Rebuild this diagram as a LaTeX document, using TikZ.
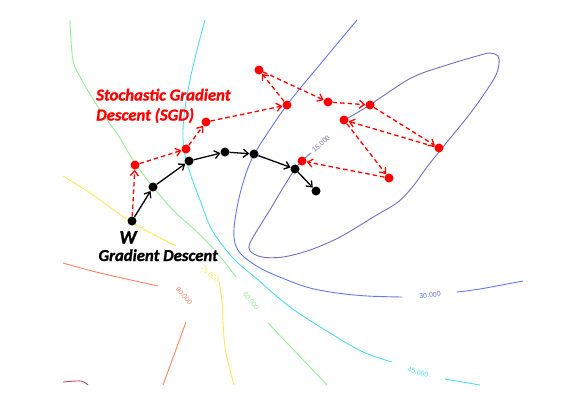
\documentclass[tikz,border=0pt]{standalone}
\usepackage{fontspec}
\newfontfamily\calib{Carlito}[UprightFont={* Bold Italic}, FakeBold=1.2]
\newfontfamily\arialf{Liberation Sans}
\usetikzlibrary{arrows.meta}
\definecolor{cPurple}{RGB}{112,112,192}
\definecolor{cBlue}{RGB}{100,120,238}
\definecolor{cCyan}{RGB}{80,220,240}
\definecolor{cGreen}{RGB}{150,238,150}
\definecolor{cYellow}{RGB}{255,232,90}
\definecolor{cSalmon}{RGB}{255,130,100}
\definecolor{cDark}{RGB}{190,80,100}
\definecolor{sgdred}{RGB}{255,0,0}
\begin{document}
\begin{tikzpicture}[x=1pt,y=-1pt,
  contour/.style={line width=0.9pt},
  clabel/.style={font=\arialf\fontsize{7}{8}\selectfont, inner sep=0.5pt},
  gddot/.style={circle, fill=black, minimum size=9pt, inner sep=0pt},
  sgddot/.style={circle, fill=sgdred, minimum size=9pt, inner sep=0pt},
  gdarrow/.style={line width=1.3pt, black, -{Straight Barb[length=5pt,width=8pt]}},
  sgdarrow/.style={line width=1.3pt, sgdred, dash pattern=on 4.5pt off 3pt, -{Straight Barb[length=5pt,width=8pt]}},
  bigtext/.style={font=\calib\fontsize{16.7}{20}\selectfont, inner sep=0pt}
]
\useasboundingbox (0,0) rectangle (577,405);
\fill[white] (0,0) rectangle (577,405);

% contours
\draw[contour, cPurple] plot[smooth, tension=0.55] coordinates {(343,121) (370,105) (380,98) (413,77) (447,65) (477,56) (490,53) (498,56) (499,64) (495,77) (480,100) (465,120) (447,142) (427,167) (414,185) (398,202) (375,216) (340,237) (310,250) (283,257) (262,257) (250,251) (250,243) (258,229) (268,213) (295,169) (311,153)};
\node[clabel, text=cPurple!80!gray, rotate=42] (l15) at (321,144) {15.000};

\draw[contour, cBlue] plot[smooth, tension=0.55] coordinates {(357,20) (322,62) (287,105) (255,153) (243,183) (236,213) (234,237) (240,253) (260,268) (287,280) (310,288) (337,293) (367,296) (402,297)};
\draw[contour, cBlue] plot[smooth] coordinates {(457,292) (480,289) (523,281)};
\node[clabel, text=cBlue, rotate=6] (l30) at (430,295) {30.000};

\draw[contour, cCyan] plot[smooth, tension=0.55] coordinates {(205,20) (197,50) (190,80) (185,108) (183,130) (184,150) (190,173) (200,200) (212,230) (233,258) (257,279) (290,307) (330,333) (363,352) (392,362)};
\draw[contour, cCyan] plot[smooth] coordinates {(445,379) (480,385)};
\node[clabel, text=cCyan, rotate=-15] (l45) at (418,372) {45.000};

\draw[contour, cGreen] plot[smooth, tension=0.55] coordinates {(70,20) (73,60) (83,82) (100,110) (118,135) (133,160) (153,187) (175,212) (195,230) (210,245) (223,260) (236,277)};
\draw[contour, cGreen] plot[smooth] coordinates {(268,323) (327,385)};
\node[clabel, text=cGreen, rotate=-52] (l60) at (251,301) {60.000};

\draw[contour, cYellow] plot[smooth, tension=0.55] coordinates {(63,176) (90,193) (133,223) (176,246)};
\draw[contour, cYellow] plot[smooth, tension=0.55] coordinates {(219,281) (222,303) (225,347) (234,385)};
\node[clabel, text=cYellow, rotate=-40] (l75) at (210,274) {75.000};

\draw[contour, cSalmon] plot[smooth, tension=0.55] coordinates {(63,263) (100,273) (158,286)};
\draw[contour, cSalmon] plot[smooth] coordinates {(186,322) (163,385)};
\node[clabel, text=cSalmon, rotate=-50] (l90) at (184,296) {90.000};

\draw[contour, cDark] plot[smooth] coordinates {(63,382) (81,381) (88,385)};

% texts
\node[bigtext, text=sgdred, anchor=base west] (sgdA) at (96,100.5) {Stochastic Gradient};
\node[bigtext, text=sgdred, anchor=base west] (sgdB) at (96,120.5) {Descent (SGD)};
\node[bigtext, font=\calib\fontsize{19}{22}\selectfont, anchor=base] (wlab) at (128,243.5) {W};
\node[bigtext, fill=white, inner sep=0.3pt, anchor=base west] (gdlab) at (98,261) {Gradient Descent};

% dots
\node[gddot] (g1) at (132,221) {};
\node[gddot] (g2) at (153,187) {};
\node[gddot] (g3) at (189,161) {};
\node[gddot] (g4) at (225,152) {};
\node[gddot] (g5) at (254,154) {};
\node[gddot] (g6) at (295,169) {};
\node[gddot] (g7) at (316,191) {};

\node[sgddot] (s1) at (135,165) {};
\node[sgddot] (s2) at (186,149) {};
\node[sgddot] (s3) at (206,122) {};
\node[sgddot] (s4) at (287,105) {};
\node[sgddot] (s5) at (259,70) {};
\node[sgddot] (s6) at (328,102) {};
\node[sgddot] (s7) at (370,105) {};
\node[sgddot] (s8) at (439,148) {};
\node[sgddot] (s9) at (344,120) {};
\node[sgddot] (s10) at (389,178) {};
\node[sgddot] (s11) at (302,161) {};

% arrows
\draw[sgdarrow] (g1) -- (s1);
\draw[sgdarrow] (s1) -- (s2);
\draw[sgdarrow] (s2) -- (s3);
\draw[sgdarrow] (s3) -- (s4);
\draw[sgdarrow] (s4) -- (s5);
\draw[sgdarrow] (s5) -- (s6);
\draw[sgdarrow] (s6) -- (s7);
\draw[sgdarrow] (s7) -- (s8);
\draw[sgdarrow] (s8) -- (s9);
\draw[sgdarrow] (s9) -- (s10);
\draw[sgdarrow] (s10) -- (s11);

\draw[gdarrow] (g1) -- (g2);
\draw[gdarrow] (g2) -- (g3);
\draw[gdarrow] (g3) -- (g4);
\draw[gdarrow] (g4) -- (g5);
\draw[gdarrow] (g5) -- (g6);
\draw[gdarrow] (g6) -- (g7);
\end{tikzpicture}
\end{document}
